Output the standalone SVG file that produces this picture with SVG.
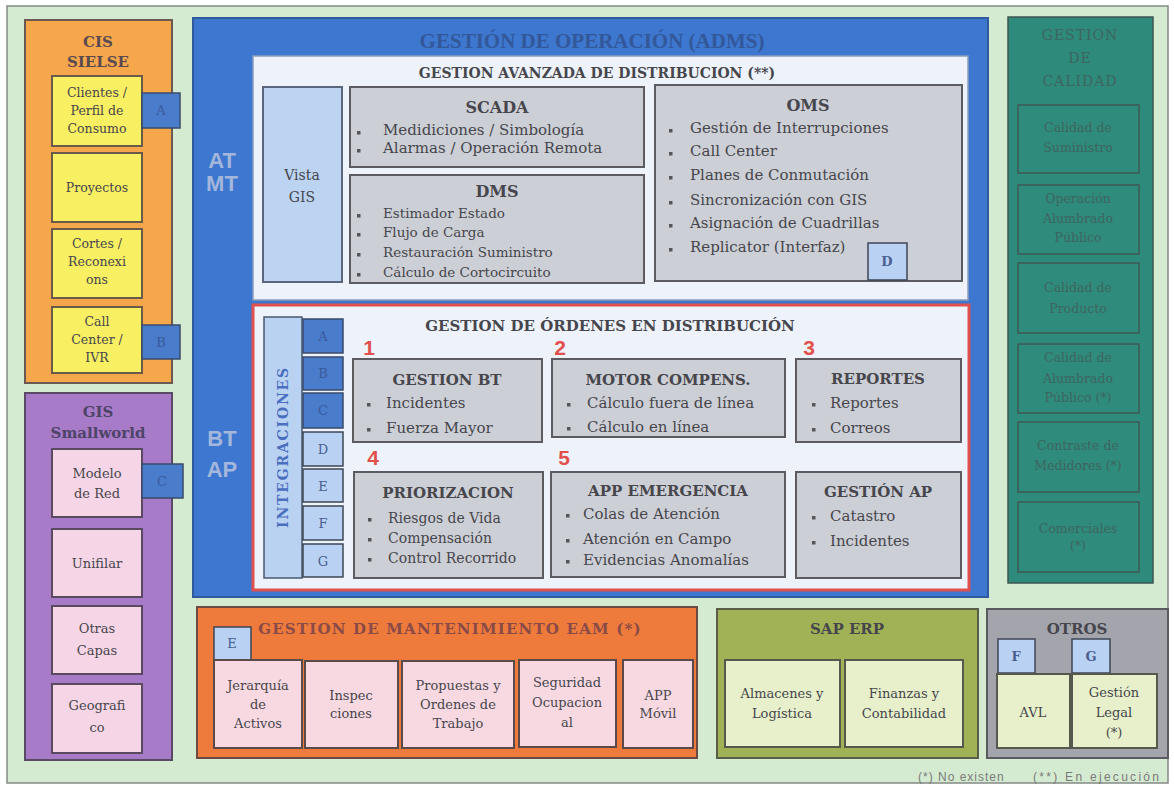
<svg xmlns="http://www.w3.org/2000/svg" width="1174" height="787" viewBox="0 0 1174 787">
<defs>
<style>
text{font-family:"DejaVu Serif","Liberation Serif",serif;fill:#46464c;}
.c{text-anchor:middle;}
.t{font-weight:bold;}
.gray{fill:#cdcfd6;stroke:#5c5c60;stroke-width:2;}
.yel{fill:#f9ef62;stroke:#6a5a4a;stroke-width:2;}
.pink{fill:#f6d6e6;stroke:#5a4a60;stroke-width:2;}
.epink{fill:#f8d9e2;stroke:#5a4a4a;stroke-width:2;}
.lg{fill:#e7f0cb;stroke:#55584a;stroke-width:2;}
.dblue{fill:#4a7ccc;stroke:#3a4a6a;stroke-width:1.5;}
.lblue{fill:#b9d2f3;stroke:#3e4656;stroke-width:1.5;}
.teal{fill:#2f8b7b;stroke:#3f5a55;stroke-width:1.5;}
.b{fill:#55555a;}
.s12{font-size:12.5px;}
.s13{font-size:13px;}
.s135{font-size:13.5px;}
.s14{font-size:14px;}
.s15{font-size:15px;}
.s16{font-size:16px;}
.num{font-family:"Liberation Sans",Arial,sans-serif;font-weight:bold;font-size:21px;fill:#e2504c;text-anchor:middle;}
.volt{font-family:"Liberation Sans",Arial,sans-serif;font-weight:bold;font-size:22px;fill:#a3b6dc;text-anchor:middle;}
.qt{fill:#3e6560;font-size:12.5px;text-anchor:middle;}
.leg{font-family:"Liberation Sans",Arial,sans-serif;font-size:12px;fill:#7a7a7a;letter-spacing:1px;}
</style>
</defs>

<g id="frame">
<rect x="7" y="6" width="1161" height="777" fill="#d5ebd1" stroke="#858a85" stroke-width="1.5"/>
</g>

<!-- CIS SIELSE -->
<g id="cis-sielse">
<rect x="25" y="20" width="147" height="363" fill="#f6a74b" stroke="#6a5a52" stroke-width="2"/>
<text class="c t s15" x="98" y="47" style="fill:#5a4a50">CIS</text>
<text class="c t s15" x="98" y="67" style="fill:#5a4a50">SIELSE</text>
<g id="cis-clientes"><rect class="yel" x="52" y="76" width="90" height="70"/>
<text class="c s12" x="97" y="97">Clientes /</text><text class="c s12" x="97" y="115">Perfil de</text><text class="c s12" x="97" y="133">Consumo</text></g>
<g id="cis-proyectos"><rect class="yel" x="52" y="153" width="90" height="69"/>
<text class="c s12" x="97" y="192">Proyectos</text></g>
<g id="cis-cortes"><rect class="yel" x="52" y="229" width="90" height="69"/>
<text class="c s12" x="97" y="248">Cortes /</text><text class="c s12" x="97" y="266">Reconexi</text><text class="c s12" x="97" y="284">ons</text></g>
<g id="cis-callcenter"><rect class="yel" x="52" y="307" width="90" height="66"/>
<text class="c s12" x="97" y="326">Call</text><text class="c s12" x="97" y="344">Center /</text><text class="c s12" x="97" y="362">IVR</text></g>
<g id="tab-a"><rect class="dblue" x="142" y="93" width="38" height="35"/><text class="c s13" x="161" y="115" style="fill:#3a5a98">A</text></g>
<g id="tab-b"><rect class="dblue" x="142" y="325" width="38" height="34"/><text class="c s13" x="161" y="347" style="fill:#3a5a98">B</text></g>
</g>

<!-- GIS Smallworld -->
<g id="gis-smallworld">
<rect x="25" y="393" width="147" height="367" fill="#a87bc9" stroke="#5a4a66" stroke-width="2"/>
<text class="c t s15" x="98" y="417" style="fill:#4e4468">GIS</text>
<text class="c t s15" x="98" y="438" style="fill:#4e4468">Smallworld</text>
<g id="gis-modelo"><rect class="pink" x="52" y="449" width="90" height="68"/>
<text class="c s13" x="97" y="478">Modelo</text><text class="c s13" x="97" y="498">de Red</text></g>
<g id="gis-unifilar"><rect class="pink" x="52" y="529" width="90" height="68"/>
<text class="c s13" x="97" y="568">Unifilar</text></g>
<g id="gis-otras"><rect class="pink" x="52" y="606" width="90" height="68"/>
<text class="c s13" x="97" y="633">Otras</text><text class="c s13" x="97" y="655">Capas</text></g>
<g id="gis-geografico"><rect class="pink" x="52" y="684" width="90" height="69"/>
<text class="c s13" x="97" y="710">Geografi</text><text class="c s13" x="97" y="732">co</text></g>
<g id="tab-c"><rect class="dblue" x="142" y="464" width="41" height="34"/><text class="c s13" x="162" y="486" style="fill:#3a5a98">C</text></g>
</g>

<!-- ADMS -->
<g id="adms">
<rect x="193" y="18" width="795" height="579" fill="#3d77cf" stroke="#2f5a9c" stroke-width="2"/>
<text class="c t" x="592" y="48" style="font-family:'Liberation Serif',serif;font-size:21px;fill:#33589a">GESTIÓN DE OPERACIÓN (ADMS)</text>
<text class="volt" x="222" y="168">AT</text>
<text class="volt" x="222" y="191">MT</text>
<text class="volt" x="222" y="446">BT</text>
<text class="volt" x="222" y="477">AP</text>
</g>

<g id="gestion-avanzada">
<rect x="253" y="56" width="715" height="244" fill="#eef3fb" stroke="#8a9cba" stroke-width="1.5"/>
<text class="c t s14" x="597" y="78">GESTION AVANZADA DE DISTRIBUCION (**)</text>
<g id="vista-gis"><rect x="263" y="87" width="79" height="195" fill="#bcd4f2" stroke="#5a6680" stroke-width="2"/>
<text class="c s14" x="302" y="180">Vista</text><text class="c s14" x="302" y="202">GIS</text></g>
<g id="scada"><rect class="gray" x="350" y="87" width="294" height="80"/>
<text class="c t s16" x="497" y="113">SCADA</text>
<rect class="b" x="357" y="131" width="3.5" height="3.5"/><text class="s15" x="383" y="135">Medidiciones / Simbología</text>
<rect class="b" x="357" y="149" width="3.5" height="3.5"/><text class="s15" x="383" y="153">Alarmas / Operación Remota</text></g>
<g id="dms"><rect class="gray" x="350" y="175" width="294" height="108"/>
<text class="c t s16" x="497" y="197">DMS</text>
<rect class="b" x="357" y="214" width="3.5" height="3.5"/><text class="s135" x="383" y="218">Estimador Estado</text>
<rect class="b" x="357" y="233" width="3.5" height="3.5"/><text class="s135" x="383" y="237">Flujo de Carga</text>
<rect class="b" x="357" y="253" width="3.5" height="3.5"/><text class="s135" x="383" y="257">Restauración Suministro</text>
<rect class="b" x="357" y="273" width="3.5" height="3.5"/><text class="s135" x="383" y="277">Cálculo de Cortocircuito</text></g>
<g id="oms"><rect class="gray" x="655" y="85" width="307" height="196"/>
<text class="c t s16" x="808" y="111">OMS</text>
<rect class="b" x="669" y="129" width="3.5" height="3.5"/><text class="s15" x="690" y="133">Gestión de Interrupciones</text>
<rect class="b" x="669" y="152" width="3.5" height="3.5"/><text class="s15" x="690" y="156">Call Center</text>
<rect class="b" x="669" y="176" width="3.5" height="3.5"/><text class="s15" x="690" y="180">Planes de Conmutación</text>
<rect class="b" x="669" y="201" width="3.5" height="3.5"/><text class="s15" x="690" y="205">Sincronización con GIS</text>
<rect class="b" x="669" y="224" width="3.5" height="3.5"/><text class="s15" x="690" y="228">Asignación de Cuadrillas</text>
<rect class="b" x="669" y="248" width="3.5" height="3.5"/><text class="s15" x="690" y="252">Replicator (Interfaz)</text>
<g id="tab-d-oms"><rect class="lblue" x="868" y="243" width="39" height="37"/><text class="c t s13" x="887" y="266" style="fill:#4a6090">D</text></g></g>
</g>

<!-- Ordenes -->
<g id="gestion-ordenes">
<rect x="253" y="305" width="716" height="285" fill="#eef3fb" stroke="#e0504e" stroke-width="3"/>
<text class="c t s15" x="610" y="331">GESTION DE ÓRDENES EN DISTRIBUCIÓN</text>
<g id="integraciones"><rect x="264" y="317" width="38" height="261" fill="#b9d2f2" stroke="#4a5a70" stroke-width="1.5"/>
<text class="c t s14" x="0" y="0" transform="translate(288,447) rotate(-90)" style="fill:#4b6fbf;letter-spacing:1.8px">INTEGRACIONES</text></g>
<g id="int-a"><rect class="dblue" x="303" y="319" width="40" height="34"/><text class="c s13" x="323" y="341" style="fill:#3a5a98">A</text></g>
<g id="int-b"><rect class="dblue" x="303" y="357" width="40" height="33"/><text class="c s13" x="323" y="378" style="fill:#3a5a98">B</text></g>
<g id="int-c"><rect class="dblue" x="303" y="393" width="40" height="35"/><text class="c s13" x="323" y="415" style="fill:#3a5a98">C</text></g>
<g id="int-d"><rect class="lblue" x="303" y="432" width="40" height="34"/><text class="c s13" x="323" y="454" style="fill:#4a5f90">D</text></g>
<g id="int-e"><rect class="lblue" x="303" y="469" width="40" height="33"/><text class="c s13" x="323" y="491" style="fill:#4a5f90">E</text></g>
<g id="int-f"><rect class="lblue" x="303" y="506" width="40" height="34"/><text class="c s13" x="323" y="528" style="fill:#4a5f90">F</text></g>
<g id="int-g"><rect class="lblue" x="303" y="544" width="40" height="33"/><text class="c s13" x="323" y="566" style="fill:#4a5f90">G</text></g>

<text class="num" x="369" y="355">1</text>
<text class="num" x="560" y="355">2</text>
<text class="num" x="809" y="355">3</text>
<text class="num" x="373" y="465">4</text>
<text class="num" x="564" y="465">5</text>

<g id="gestion-bt"><rect class="gray" x="353" y="359" width="189" height="83"/>
<text class="c t s15" x="447" y="385">GESTION BT</text>
<rect class="b" x="367" y="403" width="3.5" height="3.5"/><text class="s15" x="386" y="408">Incidentes</text>
<rect class="b" x="367" y="428" width="3.5" height="3.5"/><text class="s15" x="386" y="433">Fuerza Mayor</text></g>
<g id="motor-compens"><rect class="gray" x="552" y="359" width="233" height="78"/>
<text class="c t s15" x="668" y="385">MOTOR COMPENS.</text>
<rect class="b" x="567" y="403" width="3.5" height="3.5"/><text class="s15" x="587" y="408">Cálculo fuera de línea</text>
<rect class="b" x="567" y="427" width="3.5" height="3.5"/><text class="s15" x="587" y="432">Cálculo en línea</text></g>
<g id="reportes"><rect class="gray" x="796" y="359" width="165" height="83"/>
<text class="c t s15" x="878" y="384">REPORTES</text>
<rect class="b" x="812" y="403" width="3.5" height="3.5"/><text class="s15" x="830" y="408">Reportes</text>
<rect class="b" x="812" y="428" width="3.5" height="3.5"/><text class="s15" x="830" y="433">Correos</text></g>
<g id="priorizacion"><rect class="gray" x="354" y="472" width="189" height="106"/>
<text class="c t s15" x="448" y="498">PRIORIZACION</text>
<rect class="b" x="368" y="518" width="3.5" height="3.5"/><text class="s14" x="388" y="523">Riesgos de Vida</text>
<rect class="b" x="368" y="538" width="3.5" height="3.5"/><text class="s14" x="388" y="543">Compensación</text>
<rect class="b" x="368" y="558" width="3.5" height="3.5"/><text class="s14" x="388" y="563">Control Recorrido</text></g>
<g id="app-emergencia"><rect class="gray" x="551" y="472" width="234" height="105"/>
<text class="c t s15" x="668" y="496">APP EMERGENCIA</text>
<rect class="b" x="566" y="514" width="3.5" height="3.5"/><text class="s15" x="583" y="519">Colas de Atención</text>
<rect class="b" x="566" y="539" width="3.5" height="3.5"/><text class="s15" x="583" y="544">Atención en Campo</text>
<rect class="b" x="566" y="560" width="3.5" height="3.5"/><text class="s15" x="583" y="565">Evidencias Anomalías</text></g>
<g id="gestion-ap"><rect class="gray" x="796" y="472" width="165" height="106"/>
<text class="c t s15" x="878" y="497">GESTIÓN AP</text>
<rect class="b" x="812" y="516" width="3.5" height="3.5"/><text class="s15" x="830" y="521">Catastro</text>
<rect class="b" x="812" y="541" width="3.5" height="3.5"/><text class="s15" x="830" y="546">Incidentes</text></g>
</g>

<!-- Gestion de calidad -->
<g id="gestion-calidad">
<rect x="1008" y="17" width="145" height="566" fill="#2e8a7a" stroke="#3c5650" stroke-width="1.5"/>
<text class="qt" x="1080" y="40" style="font-size:14px;letter-spacing:1px">GESTION</text>
<text class="qt" x="1080" y="63" style="font-size:14px;letter-spacing:1px">DE</text>
<text class="qt" x="1080" y="86" style="font-size:14px;letter-spacing:1px">CALIDAD</text>
<g id="cal-suministro"><rect class="teal" x="1018" y="105" width="121" height="68"/>
<text class="qt" x="1078" y="132">Calidad de</text><text class="qt" x="1078" y="152">Suministro</text></g>
<g id="cal-operacion-ap"><rect class="teal" x="1018" y="185" width="121" height="69"/>
<text class="qt" x="1078" y="203">Operación</text><text class="qt" x="1078" y="223">Alumbrado</text><text class="qt" x="1078" y="242">Público</text></g>
<g id="cal-producto"><rect class="teal" x="1018" y="263" width="121" height="70"/>
<text class="qt" x="1078" y="292">Calidad de</text><text class="qt" x="1078" y="313">Producto</text></g>
<g id="cal-alumbrado"><rect class="teal" x="1018" y="344" width="121" height="69"/>
<text class="qt" x="1078" y="362">Calidad de</text><text class="qt" x="1078" y="383">Alumbrado</text><text class="qt" x="1078" y="402">Público (*)</text></g>
<g id="cal-contraste"><rect class="teal" x="1018" y="422" width="121" height="70"/>
<text class="qt" x="1078" y="450">Contraste de</text><text class="qt" x="1078" y="470">Medidores (*)</text></g>
<g id="cal-comerciales"><rect class="teal" x="1018" y="502" width="121" height="70"/>
<text class="qt" x="1078" y="533">Comerciales</text><text class="qt" x="1078" y="550">(*)</text></g>
</g>

<!-- EAM -->
<g id="gestion-eam">
<rect x="197" y="607" width="500" height="151" fill="#ee7a3b" stroke="#6a4a42" stroke-width="2"/>
<text class="t s15" x="450" y="634" text-anchor="middle" style="fill:#8a4a48;letter-spacing:1.2px">GESTION DE MANTENIMIENTO EAM (*)</text>
<g id="tab-e-eam"><rect class="lblue" x="214" y="627" width="37" height="33"/><text class="c s13" x="232" y="648" style="fill:#4a5f90">E</text></g>
<g id="eam-jerarquia"><rect class="epink" x="214" y="660" width="88" height="88"/>
<text class="c s13" x="258" y="690">Jerarquía</text><text class="c s13" x="258" y="709">de</text><text class="c s13" x="258" y="728">Activos</text></g>
<g id="eam-inspecciones"><rect class="epink" x="305" y="661" width="93" height="87"/>
<text class="c s13" x="351" y="700">Inspec</text><text class="c s13" x="351" y="718">ciones</text></g>
<g id="eam-propuestas"><rect class="epink" x="402" y="661" width="112" height="87"/>
<text class="c s13" x="458" y="690">Propuestas y</text><text class="c s13" x="458" y="709">Ordenes de</text><text class="c s13" x="458" y="728">Trabajo</text></g>
<g id="eam-seguridad"><rect class="epink" x="519" y="660" width="97" height="87"/>
<text class="c s13" x="567" y="687">Seguridad</text><text class="c s13" x="567" y="707">Ocupacion</text><text class="c s13" x="567" y="727">al</text></g>
<g id="eam-app"><rect class="epink" x="623" y="660" width="70" height="88"/>
<text class="c s13" x="658" y="700">APP</text><text class="c s13" x="658" y="718">Móvil</text></g>
</g>

<!-- SAP ERP -->
<g id="sap-erp">
<rect x="717" y="609" width="261" height="149" fill="#a0b255" stroke="#5a5e48" stroke-width="2"/>
<text class="c t s15" x="847" y="634">SAP ERP</text>
<g id="sap-almacenes"><rect class="lg" x="725" y="660" width="115" height="87"/>
<text class="c s13" x="782" y="698">Almacenes y</text><text class="c s13" x="782" y="718">Logística</text></g>
<g id="sap-finanzas"><rect class="lg" x="845" y="660" width="118" height="87"/>
<text class="c s13" x="904" y="698">Finanzas y</text><text class="c s13" x="904" y="718">Contabilidad</text></g>
</g>

<!-- OTROS -->
<g id="otros">
<rect x="987" y="609" width="181" height="149" fill="#a4a4ac" stroke="#5a5a60" stroke-width="2"/>
<text class="c t s15" x="1077" y="634">OTROS</text>
<g id="tab-f"><rect class="lblue" x="998" y="639" width="37" height="34"/><text class="c t s13" x="1016" y="661" style="fill:#4a5f90">F</text></g>
<g id="tab-g"><rect class="lblue" x="1072" y="639" width="38" height="34"/><text class="c t s13" x="1091" y="661" style="fill:#4a5f90">G</text></g>
<g id="otros-avl"><rect class="lg" x="997" y="674" width="73" height="74"/>
<text class="c s13" x="1033" y="717">AVL</text></g>
<g id="otros-legal"><rect class="lg" x="1072" y="674" width="85" height="74"/>
<text class="c s13" x="1114" y="697">Gestión</text><text class="c s13" x="1114" y="717">Legal</text><text class="c s13" x="1114" y="737">(*)</text></g>
</g>

<g id="connectors"></g>

<g id="legend">
<text class="leg" x="918" y="781">(*) No existen</text>
<text class="leg" x="1033" y="781" textLength="127" lengthAdjust="spacing">(**) En ejecución</text>
</g>
</svg>
